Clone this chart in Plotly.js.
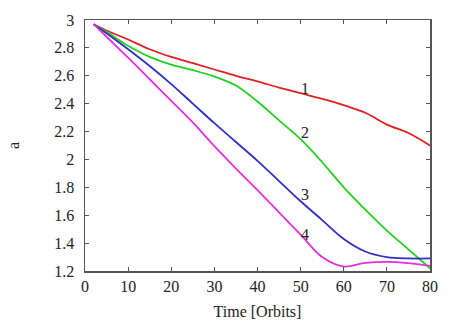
<!DOCTYPE html>
<html>
<head>
<meta charset="utf-8">
<script src="https://cdn.plot.ly/plotly-3.0.1.min.js"></script>
<style>html,body{margin:0;padding:0;background:#fff;}#chart{width:458px;height:321px;}</style>
</head>
<body>
<div id="chart"></div>
<script>
const time = [2, 5, 10, 15, 20, 25, 30, 35, 40, 45, 50, 55, 60, 65, 70, 75, 80];
const series1 = [2.97, 2.925, 2.86, 2.79, 2.735, 2.69, 2.645, 2.60, 2.56, 2.515, 2.475, 2.435, 2.39, 2.335, 2.25, 2.19, 2.10];
const series2 = [2.97, 2.915, 2.815, 2.735, 2.68, 2.64, 2.595, 2.53, 2.415, 2.28, 2.145, 1.98, 1.80, 1.64, 1.49, 1.355, 1.22];
const series3 = [2.97, 2.905, 2.79, 2.67, 2.54, 2.40, 2.26, 2.125, 1.99, 1.845, 1.70, 1.565, 1.43, 1.34, 1.30, 1.29, 1.29];
const series4 = [2.97, 2.88, 2.73, 2.575, 2.42, 2.265, 2.095, 1.935, 1.78, 1.62, 1.46, 1.30, 1.232, 1.258, 1.266, 1.256, 1.237];
const labels = ["1", "2", "3", "4"];
const labelX = [51, 51, 51, 51];
const labelY = [2.51, 2.19, 1.75, 1.46];
const colors = ["#e02020", "#20d020", "#3030c8", "#e030e0"];

const allSeries = [series1, series2, series3, series4];
const traces = allSeries.map((s, i) => ({
  x: time, y: s, type: "scatter", mode: "lines",
  line: {color: colors[i], width: 1.8, shape: "spline", smoothing: 1},
  hoverinfo: "skip", showlegend: false
}));

function mkFont() { return {family: "Liberation Serif", size: 16, color: "#222"}; }
const annotations = labels.map((t, i) => ({
  x: labelX[i], y: labelY[i], xref: "x", yref: "y", text: t, showarrow: false,
  font: mkFont()
}));

function axisCommon() {
  return {
    showline: true, linecolor: "#555", linewidth: 1.5, mirror: "ticks",
    ticks: "inside", ticklen: 4, tickwidth: 1, tickcolor: "#555",
    showgrid: false, zeroline: false, tickfont: mkFont()
  };
}

const layout = {
  width: 458, height: 321,
  margin: {l: 85, r: 28, t: 20, b: 50},
  paper_bgcolor: "#fff", plot_bgcolor: "#fff",
  font: mkFont(),
  xaxis: Object.assign(axisCommon(), {
    range: [0, 80], tickvals: [0,10,20,30,40,50,60,70,80],
    title: {text: "Time [Orbits]", font: mkFont(), standoff: 12}
  }),
  yaxis: Object.assign(axisCommon(), {
    range: [1.2, 3], tickvals: [1.2,1.4,1.6,1.8,2,2.2,2.4,2.6,2.8,3],
    ticktext: ["1.2","1.4","1.6","1.8","2","2.2","2.4","2.6","2.8","3"],
    ticklabelstandoff: 6,
    title: {text: "a", font: mkFont(), standoff: 30}
  }),
  annotations: annotations
};

Plotly.newPlot("chart", traces, layout, {displayModeBar: false, staticPlot: true});
</script>
</body>
</html>
